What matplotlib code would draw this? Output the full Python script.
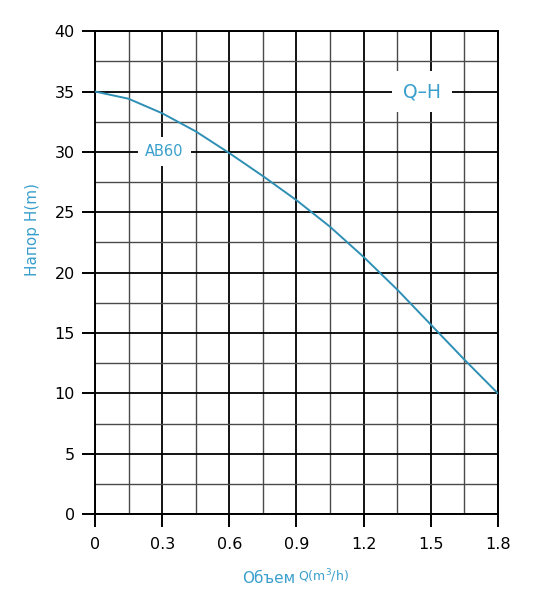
import matplotlib.pyplot as plt
import numpy as np

# Q-H curve
flow = [0, 0.15, 0.3, 0.45, 0.6, 0.75, 0.9, 1.05, 1.2, 1.35, 1.5, 1.65, 1.8]
head = [35, 34.4, 33.2, 31.7, 29.9, 28.0, 26.0, 23.8, 21.3, 18.6, 15.7, 12.8, 10]

x_ticks = [0, 0.3, 0.6, 0.9, 1.2, 1.5, 1.8]
x_labels = ["0", "0.3", "0.6", "0.9", "1.2", "1.5", "1.8"]
y_ticks = [0, 5, 10, 15, 20, 25, 30, 35, 40]

curve_col = "#2e8fb5"
text_col = "#3a9fcc"

fig = plt.figure(figsize=(5.49, 6.10), dpi=100)
ax = fig.add_axes([0.173, 0.157, 0.734, 0.792])

ax.set_xlim(0, 1.8)
ax.set_ylim(0, 40)

ax.set_xticks(x_ticks)
ax.set_xticklabels(x_labels)
ax.set_yticks(y_ticks)
ax.set_xticks(np.arange(0, 1.81, 0.15), minor=True)
ax.set_yticks(np.arange(0, 40.1, 2.5), minor=True)

ax.grid(which="major", color="black", linewidth=1.3, zorder=0)
ax.grid(which="minor", color="#4a4a4a", linewidth=1.0, zorder=0)
ax.tick_params(which="major", direction="out", length=9.5, width=1.4,
               labelsize=11.5, colors="black")
ax.tick_params(axis="x", pad=7)
ax.tick_params(axis="y", pad=5)
ax.tick_params(which="minor", length=0)
for s in ax.spines.values():
    s.set_linewidth(1.4)
    s.set_color("black")
ax.set_axisbelow(True)

ax.plot(flow, head, color=curve_col, linewidth=1.4, zorder=3)

ax.text(0.31, 30, "AB60", color=text_col, fontsize=10.5, ha="center", va="center",
        zorder=4, bbox=dict(facecolor="white", edgecolor="none", pad=5))
ax.text(1.46, 35, "Q\u2013H", color=text_col, fontsize=13.5, ha="center", va="center",
        zorder=4, bbox=dict(facecolor="white", edgecolor="none", pad=8))

fig.text(0.537, 0.052, "Объем", color=text_col, fontsize=11, ha="right", va="center")
fig.text(0.543, 0.056, "Q(m$^3$/h)", color=text_col, fontsize=9, ha="left", va="center")
fig.text(0.06, 0.623, "Напор H(m)", color=text_col, fontsize=11, rotation=90,
         ha="center", va="center")

fig.savefig("out.png", dpi=100, facecolor="white")
